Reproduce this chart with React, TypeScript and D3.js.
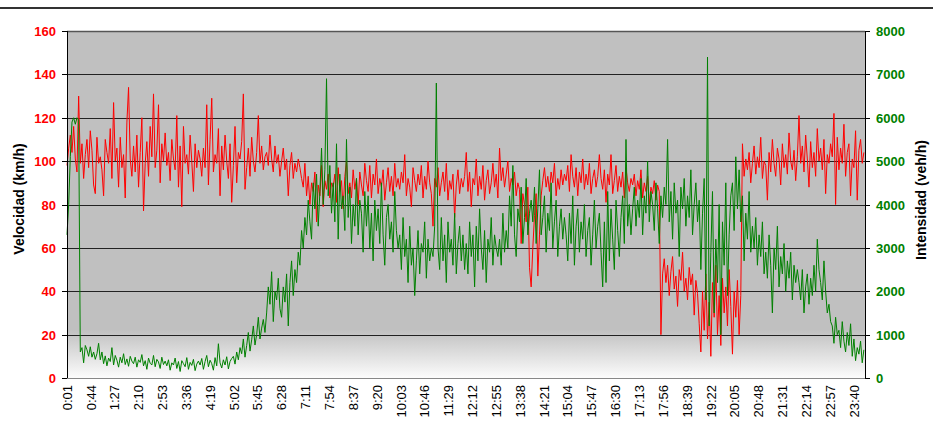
import React from 'react'
import * as d3 from 'd3'

// one reading every 3 minutes, starting at 0:01 (20 readings per hour)
const speed = [
  98, 106, 112, 104, 116, 101, 95, 130, 99, 108, 92, 103, 110, 97, 114, 105, 89, 85, 111, 99,
  102, 96, 84, 110, 104, 99, 115, 92, 127, 100, 106, 88, 111, 97, 103, 83, 118, 134, 101, 93,
  107, 95, 112, 88, 104, 120, 77, 99, 109, 93, 116, 102, 131, 97, 105, 126, 90, 108, 100, 113,
  98, 104, 91, 110, 101, 96, 121, 88, 107, 79, 116, 99, 103, 94, 112, 100, 86, 108, 97, 105,
  101, 93, 106, 97, 126, 89, 110, 129, 95, 103, 99, 115, 84, 107, 96, 112, 100, 92, 108, 81,
  98, 116, 90, 104, 101, 109, 131, 87, 97, 106, 93, 111, 100, 95, 104, 121, 99, 107, 96, 102,
  104, 98, 112, 101, 95, 107, 99, 103, 93, 100, 106, 96, 101, 84, 98, 104, 92, 99, 95, 101,
  97, 92, 88, 99, 84, 93, 80, 90, 86, 95, 72, 89, 84, 98, 79, 91, 87, 94, 83, 90,
  88, 94, 81, 97, 86, 91, 78, 93, 100, 85, 90, 83, 96, 87, 92, 80, 95, 89, 84, 99,
  91, 86, 98, 83, 94, 89, 101, 85, 92, 88, 96, 82, 90, 97, 86, 93, 84, 99, 88, 92,
  87, 95, 90, 103, 84, 92, 88, 79, 97, 91, 86, 94, 89, 98, 83, 93, 87, 100, 90, 85,
  70, 92, 88, 97, 84, 90, 95, 86, 99, 82, 91, 87, 94, 74, 89, 96, 85, 92, 88, 93,
  104, 86, 95, 79, 92, 89, 101, 84, 93, 87, 98, 82, 91, 96, 85, 90, 99, 88, 94, 83,
  106, 91, 97, 88, 94, 100, 86, 92, 89, 95, 84, 90, 87, 62, 85, 80, 72, 88, 51, 42,
  60, 75, 85, 47, 66, 84, 91, 97, 88, 93, 86, 95, 90, 99, 84, 92, 87, 96, 89, 94,
  91, 98, 86, 103, 93, 88, 97, 84, 95, 90, 101, 87, 94, 89, 99, 85, 92, 96, 88, 93,
  103, 92, 87, 96, 81, 94, 89, 103, 85, 91, 98, 86, 93, 88, 95, 83, 97, 90, 86, 92,
  89, 94, 84, 91, 87, 96, 83, 90, 86, 93, 80, 88, 85, 91, 82, 89, 86, 20, 48, 55,
  44, 52, 38, 49, 56, 41, 47, 33, 50, 45, 58, 40, 46, 36, 51, 43, 48, 29, 45, 39,
  25, 12, 40, 22, 48, 18, 35, 10, 44, 28, 52, 20, 38, 15, 46, 30, 42, 24, 50, 33,
  11, 40, 28, 45, 20, 38, 108, 93, 101, 96, 104, 90, 99, 107, 94, 102, 97, 111, 92, 100,
  98, 82, 104, 95, 110, 99, 93, 106, 101, 89, 108, 97, 103, 94, 113, 100, 96, 105, 91, 102,
  121, 99, 107, 95, 112, 101, 88, 109, 97, 104, 93, 115, 100, 106, 96, 110, 85, 103, 99, 108,
  102, 122, 80, 111, 96, 106, 99, 117, 93, 104, 108, 84, 101, 97, 114, 82, 105, 110, 99, 104,
]

const intensity = [
  3300, 4000, 5100, 5900, 6000, 5850, 6000, 5950, 600, 700, 350, 750, 650, 500, 720, 480, 600, 430, 560, 800,
  420, 600, 330, 510, 280, 460, 380, 700, 300, 520, 410, 250, 480, 350, 560, 310, 440, 270, 500, 390,
  330, 480, 250, 420, 360, 540, 280, 400, 200, 460, 340, 300, 520, 260, 430, 370, 220, 480, 310, 390,
  280, 420, 180, 350, 300, 460, 220, 380, 150, 400, 330, 260, 470, 200, 360, 290, 430, 170, 320, 390,
  300, 450, 200, 380, 520, 260, 410, 330, 180, 470, 280, 790, 350, 230, 420, 300, 490, 210, 380, 450,
  500, 320, 600, 420, 700, 560, 900, 480, 750, 1050, 620, 880, 1200, 760, 1000, 1400, 900, 1150, 1350, 1050,
  1500, 2100, 1700, 2450, 1300, 2000, 1800, 2300, 1600, 1400, 2100, 1750, 2400, 1200, 2200, 2700, 1900, 2500, 2200, 2900,
  2600, 3400, 3000, 3700, 3300, 4100, 3600, 3200, 4500, 3900, 4700, 3500, 4300, 5300, 4000, 4800, 6900, 4200, 4900, 3800,
  4500, 3600, 5400, 3200, 4700, 3900, 4200, 3400, 5500, 3700, 4400, 3100, 4000, 3500, 4600, 3300, 4100, 3800, 2900, 4300,
  3500, 4200, 3000, 3800, 2700, 4100, 3400, 3900, 3100, 4500, 3300, 2600, 3700, 4000, 3200, 3600, 2900, 4300, 3400, 3000,
  3300, 2500, 3700, 2800, 3200, 2200, 3500, 2600, 3000, 1900, 2700, 3400, 2400, 3100, 2900, 3600, 2300, 3200, 2700, 3000,
  2800, 3500, 6800, 3000, 2500, 3700, 2700, 3300, 2200, 3600, 2900, 3200, 2600, 3800, 2400, 3100, 3500, 2700, 3300, 2500,
  3100, 2400, 3600, 2800, 3300, 2100, 3500, 2700, 3900, 3000, 2500, 3400, 2200, 3200, 2900, 3700, 2600, 3300, 3000, 2800,
  3200, 2600, 3800, 2900, 3400, 3000, 4200, 3500, 4900, 3300, 2800, 3900, 3600, 4400, 3100, 3700, 4600, 3300, 3800, 4100,
  3600, 4400, 3100, 3900, 4800, 3300, 3700, 4200, 2900, 3800, 3400, 4500, 3000, 3600, 4100, 2800, 3500, 3900, 3200, 3700,
  3300, 2700, 3800, 3100, 4200, 2600, 3500, 3900, 2900, 3600, 3200, 4000, 2800, 3400, 3700, 2600, 3300, 4100, 3000, 3500,
  3800, 2900, 2100, 3600, 2200, 4300, 2700, 3900, 3200, 2500, 4100, 3400, 2800, 3700, 4200, 3100, 5500, 3500, 4000, 3300,
  3900, 4400, 3500, 4100, 3700, 4600, 3300, 4200, 3800, 5000, 3600, 4300, 4000, 3400, 4500, 3900, 3100, 4200, 3700, 4400,
  4000, 5500, 3600, 4300, 3200, 4500, 3800, 4100, 2800, 4400, 3900, 4600, 3500, 4200, 3700, 4800, 3300, 4000, 4500, 3600,
  4100, 2500, 3800, 4600, 1800, 7400, 1200, 2900, 4300, 1500, 3200, 2200, 4000, 1000, 3600, 2600, 4500, 1900, 3300, 4200,
  4500, 3400, 5100, 3900, 4800, 3600, 4200, 2700, 3800, 3200, 4300, 2900, 3500, 3000, 3700, 2600, 3300, 2800, 3600, 2400,
  2900, 2300, 3300, 2600, 1500, 3000, 2500, 3500, 2100, 2800, 2400, 3100, 2000, 2700, 2300, 2900, 1800, 2600, 2200, 2500,
  2200, 1800, 2500, 1500, 2100, 2400, 1700, 2300, 1900, 2600, 2000, 3200, 2500, 2200, 1800, 2700, 2000, 1500, 1700, 1300,
  1200, 800, 1400, 1000, 1100, 700, 1300, 850, 600, 1050, 750, 1250, 500, 900, 400, 700, 550, 850, 350, 650,
]

const timeLabels = [
  '0:01', '0:44', '1:27', '2:10', '2:53', '3:36', '4:19', '5:02', '5:45', '6:28', '7:11', '7:54',
  '8:37', '9:20', '10:03', '10:46', '11:29', '12:12', '12:55', '13:38', '14:21', '15:04', '15:47',
  '16:30', '17:13', '17:56', '18:39', '19:22', '20:05', '20:48', '21:31', '22:14', '22:57', '23:40',
]
const speedTicks = [0, 20, 40, 60, 80, 100, 120, 140, 160]
const intensityTicks = [0, 1000, 2000, 3000, 4000, 5000, 6000, 7000, 8000]

const W = 933
const H = 431
const plot = { left: 67, right: 865, top: 31, bottom: 378 }
const font = '"Liberation Sans", Arial, sans-serif'

const toMinutes = (s: string) => {
  const [h, m] = s.split(':').map(Number)
  return h * 60 + m
}

export default function App() {
  const x = d3.scaleLinear().domain([1, 1440]).range([plot.left, plot.right])
  const ySpeed = d3.scaleLinear().domain([0, 160]).range([plot.bottom, plot.top])
  const yInt = d3.scaleLinear().domain([0, 8000]).range([plot.bottom, plot.top])

  const speedLine = d3
    .line<number>()
    .x((_, i) => x(1 + i * 3))
    .y((d) => ySpeed(d))
  const intLine = d3
    .line<number>()
    .x((_, i) => x(1 + i * 3))
    .y((d) => yInt(d))

  return (
    <div style={{ position: 'absolute', left: 0, top: 0 }}>
      <svg width={W} height={H} style={{ display: 'block', fontFamily: font }}>
        <defs>
          <linearGradient id="bg" x1="0" y1="0" x2="0" y2="1">
            <stop offset="0%" stopColor="#c0c0c0" />
            <stop offset="86%" stopColor="#c0c0c0" />
            <stop offset="100%" stopColor="#fcfcfc" />
          </linearGradient>
        </defs>

        <line x1={0} x2={W} y1={8} y2={8} stroke="#333" strokeWidth={2} />

        <rect
          x={plot.left}
          y={plot.top}
          width={plot.right - plot.left}
          height={plot.bottom - plot.top}
          fill="url(#bg)"
        />

        {/* gridlines */}
        {speedTicks.map((t) => (
          <line
            key={'g' + t}
            x1={plot.left}
            x2={plot.right}
            y1={Math.round(ySpeed(t)) + 0.5}
            y2={Math.round(ySpeed(t)) + 0.5}
            stroke={t === 160 ? '#555' : t === 0 ? '#888' : '#222'}
            strokeWidth={t === 160 ? 1.5 : 1}
          />
        ))}

        {/* series */}
        <path d={speedLine(speed) ?? ''} fill="none" stroke="#ff0000" strokeWidth={1} />
        <path d={intLine(intensity) ?? ''} fill="none" stroke="#008000" strokeWidth={1} />

        {/* left axis */}
        <line x1={plot.left + 0.5} x2={plot.left + 0.5} y1={plot.top} y2={plot.bottom} stroke="#000" />
        {speedTicks.map((t) => (
          <g key={'l' + t} transform={`translate(0,${Math.round(ySpeed(t)) + 0.5})`}>
            <line x1={plot.left - 5} x2={plot.left} stroke="#000" />
            <text
              x={56}
              dy="0.36em"
              textAnchor="end"
              fontSize={13}
              fontWeight="bold"
              fill="#ff0000"
            >
              {t}
            </text>
          </g>
        ))}

        {/* right axis */}
        <line x1={plot.right + 0.5} x2={plot.right + 0.5} y1={plot.top} y2={plot.bottom} stroke="#000" />
        {intensityTicks.map((t) => (
          <g key={'r' + t} transform={`translate(0,${Math.round(yInt(t)) + 0.5})`}>
            <line x1={plot.right} x2={plot.right + 5} stroke="#000" />
            <text x={876} dy="0.36em" fontSize={13} fontWeight="bold" fill="#008000">
              {t}
            </text>
          </g>
        ))}

        {/* time labels */}
        {timeLabels.map((s) => (
          <text
            key={s}
            transform={`translate(${x(toMinutes(s))},385) rotate(-90)`}
            dy="0.36em"
            textAnchor="end"
            fontSize={13}
            fill="#000"
          >
            {s}
          </text>
        ))}

        {/* axis titles */}
        <text
          transform="translate(19,199) rotate(-90)"
          textAnchor="middle"
          dy="0.36em"
          fontSize={14}
          fontWeight="bold"
        >
          Velocidad (km/h)
        </text>
        <text
          transform="translate(921,200) rotate(-90)"
          textAnchor="middle"
          dy="0.36em"
          fontSize={14}
          fontWeight="bold"
        >
          Intensidad (veh/h)
        </text>
      </svg>
    </div>
  )
}
